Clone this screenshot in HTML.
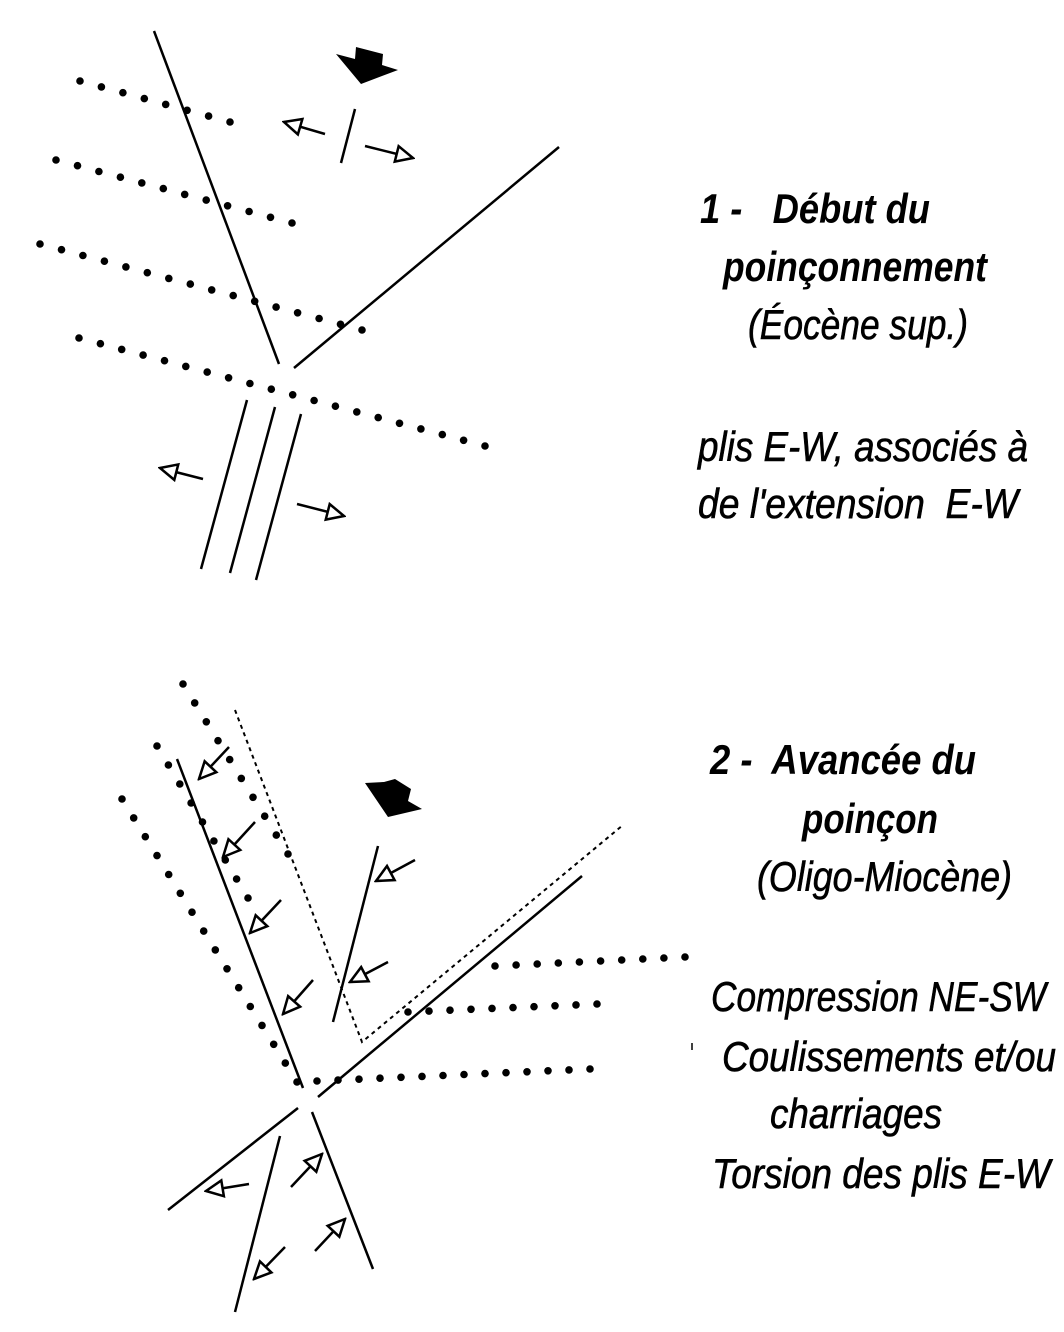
<!DOCTYPE html>
<html><head><meta charset="utf-8"><style>html,body{margin:0;padding:0;background:#fff}svg{display:block}</style></head><body>
<svg width="1064" height="1332" viewBox="0 0 1064 1332" xmlns="http://www.w3.org/2000/svg">
<defs>
<marker id="oa" viewBox="0 0 10 10" refX="9" refY="5" markerWidth="21" markerHeight="21" markerUnits="userSpaceOnUse" orient="auto">
<path d="M1,1.2 L9,5 L1,8.8 Z" fill="#fff" stroke="#000" stroke-width="1.2"/>
</marker>
</defs>
<g stroke="#000" stroke-width="2.5" fill="none" stroke-linecap="butt">
<line x1="154" y1="31" x2="279" y2="364"/>
<line x1="294" y1="368" x2="559" y2="147"/>
<line x1="355" y1="109" x2="341" y2="163"/>
<line x1="247" y1="400" x2="201" y2="569"/>
<line x1="275" y1="407" x2="230" y2="573"/>
<line x1="301" y1="414" x2="256" y2="580"/>
<g marker-end="url(#oa)">
<line x1="325" y1="134" x2="284" y2="122"/>
<line x1="365" y1="146" x2="413" y2="158"/>
<line x1="203" y1="479" x2="160" y2="468"/>
<line x1="297" y1="504" x2="344" y2="516"/>
</g>
<line x1="177" y1="759" x2="303" y2="1088"/>
<line x1="318" y1="1097" x2="582" y2="876"/>
<line x1="298" y1="1108" x2="168" y2="1210"/>
<line x1="280" y1="1136" x2="235" y2="1312"/>
<line x1="312" y1="1112" x2="373" y2="1269"/>
<line x1="378" y1="846" x2="333" y2="1022"/>
<polyline points="235,710 362,1042 623,825" stroke-width="2" stroke-dasharray="4,4"/>
<g marker-end="url(#oa)">
<line x1="229" y1="747" x2="199" y2="779"/>
<line x1="255" y1="822" x2="223" y2="857"/>
<line x1="281" y1="900" x2="250" y2="933"/>
<line x1="313" y1="980" x2="283" y2="1014"/>
<line x1="415" y1="860" x2="376" y2="881"/>
<line x1="388" y1="962" x2="350" y2="982"/>
<line x1="249" y1="1184" x2="206" y2="1191"/>
<line x1="291" y1="1187" x2="322" y2="1154"/>
<line x1="315" y1="1251" x2="345" y2="1219"/>
<line x1="285" y1="1247" x2="254" y2="1279"/>
</g>
<line x1="692" y1="1043" x2="692" y2="1050" stroke-width="1.5"/>
</g>
<polygon points="336,54 355,59 356,47 383,54 382,65 398,70 361,84" fill="#000"/>
<polygon points="365,783 384,782 395,779 411,789 408,801 422,809 388,817" fill="#000"/>
<g font-family="'Liberation Sans', Arial, sans-serif" font-style="italic" font-size="42" fill="#000">
<text x="700" y="223" font-weight="bold" textLength="230" lengthAdjust="spacingAndGlyphs" xml:space="preserve">1 -   Début du</text>
<text x="723" y="281" font-weight="bold" textLength="264" lengthAdjust="spacingAndGlyphs">poinçonnement</text>
<text x="748" y="339" textLength="220" lengthAdjust="spacingAndGlyphs" stroke="#000" stroke-width="0.6">(Éocène sup.)</text>
<text x="698" y="461" textLength="330" lengthAdjust="spacingAndGlyphs" stroke="#000" stroke-width="0.6">plis E-W, associés à</text>
<text x="698" y="518" textLength="320" lengthAdjust="spacingAndGlyphs" xml:space="preserve" stroke="#000" stroke-width="0.6">de l'extension  E-W</text>
<text x="710" y="774" font-weight="bold" textLength="266" lengthAdjust="spacingAndGlyphs" xml:space="preserve">2 -  Avancée du</text>
<text x="802" y="833" font-weight="bold" textLength="136" lengthAdjust="spacingAndGlyphs">poinçon</text>
<text x="757" y="891" textLength="255" lengthAdjust="spacingAndGlyphs" stroke="#000" stroke-width="0.6">(Oligo-Miocène)</text>
<text x="711" y="1011" textLength="335" lengthAdjust="spacingAndGlyphs" stroke="#000" stroke-width="0.6">Compression NE-SW</text>
<text x="722" y="1071" textLength="334" lengthAdjust="spacingAndGlyphs" stroke="#000" stroke-width="0.6">Coulissements et/ou</text>
<text x="770" y="1128" textLength="172" lengthAdjust="spacingAndGlyphs" stroke="#000" stroke-width="0.6">charriages</text>
<text x="712" y="1188" textLength="338" lengthAdjust="spacingAndGlyphs" stroke="#000" stroke-width="0.6">Torsion des plis E-W</text>
</g>
<g fill="#000">
<circle cx="80" cy="81" r="3.8"/><circle cx="101.4" cy="86.9" r="3.8"/><circle cx="122.9" cy="92.7" r="3.8"/><circle cx="144.3" cy="98.6" r="3.8"/><circle cx="165.7" cy="104.4" r="3.8"/><circle cx="187.1" cy="110.3" r="3.8"/><circle cx="208.6" cy="116.1" r="3.8"/><circle cx="230" cy="122" r="3.8"/>
<circle cx="56" cy="160" r="3.8"/><circle cx="77.5" cy="165.7" r="3.8"/><circle cx="98.9" cy="171.5" r="3.8"/><circle cx="120.4" cy="177.2" r="3.8"/><circle cx="141.8" cy="182.9" r="3.8"/><circle cx="163.3" cy="188.6" r="3.8"/><circle cx="184.7" cy="194.4" r="3.8"/><circle cx="206.2" cy="200.1" r="3.8"/><circle cx="227.6" cy="205.8" r="3.8"/><circle cx="249.1" cy="211.5" r="3.8"/><circle cx="270.5" cy="217.3" r="3.8"/><circle cx="292" cy="223" r="3.8"/>
<circle cx="40" cy="244" r="3.8"/><circle cx="61.5" cy="249.7" r="3.8"/><circle cx="82.9" cy="255.5" r="3.8"/><circle cx="104.4" cy="261.2" r="3.8"/><circle cx="125.9" cy="266.9" r="3.8"/><circle cx="147.3" cy="272.7" r="3.8"/><circle cx="168.8" cy="278.4" r="3.8"/><circle cx="190.3" cy="284.1" r="3.8"/><circle cx="211.7" cy="289.9" r="3.8"/><circle cx="233.2" cy="295.6" r="3.8"/><circle cx="254.7" cy="301.3" r="3.8"/><circle cx="276.1" cy="307.1" r="3.8"/><circle cx="297.6" cy="312.8" r="3.8"/><circle cx="319.1" cy="318.5" r="3.8"/><circle cx="340.5" cy="324.3" r="3.8"/><circle cx="362" cy="330" r="3.8"/>
<circle cx="79" cy="338" r="3.8"/><circle cx="100.4" cy="343.7" r="3.8"/><circle cx="121.7" cy="349.4" r="3.8"/><circle cx="143.1" cy="355.1" r="3.8"/><circle cx="164.5" cy="360.7" r="3.8"/><circle cx="185.8" cy="366.4" r="3.8"/><circle cx="207.2" cy="372.1" r="3.8"/><circle cx="228.6" cy="377.8" r="3.8"/><circle cx="249.9" cy="383.5" r="3.8"/><circle cx="271.3" cy="389.2" r="3.8"/><circle cx="292.7" cy="394.8" r="3.8"/><circle cx="314.1" cy="400.5" r="3.8"/><circle cx="335.4" cy="406.2" r="3.8"/><circle cx="356.8" cy="411.9" r="3.8"/><circle cx="378.2" cy="417.6" r="3.8"/><circle cx="399.5" cy="423.3" r="3.8"/><circle cx="420.9" cy="428.9" r="3.8"/><circle cx="442.3" cy="434.6" r="3.8"/><circle cx="463.6" cy="440.3" r="3.8"/><circle cx="485" cy="446" r="3.8"/>
<circle cx="183" cy="684" r="3.8"/><circle cx="194.7" cy="702.9" r="3.8"/><circle cx="206.3" cy="721.8" r="3.8"/><circle cx="218" cy="740.7" r="3.8"/><circle cx="229.7" cy="759.6" r="3.8"/><circle cx="241.3" cy="778.4" r="3.8"/><circle cx="253" cy="797.3" r="3.8"/><circle cx="264.7" cy="816.2" r="3.8"/><circle cx="276.3" cy="835.1" r="3.8"/><circle cx="288" cy="854" r="3.8"/>
<circle cx="157" cy="746" r="3.8"/><circle cx="168.4" cy="765" r="3.8"/><circle cx="179.8" cy="784" r="3.8"/><circle cx="191.1" cy="803" r="3.8"/><circle cx="202.5" cy="822" r="3.8"/><circle cx="213.9" cy="841" r="3.8"/><circle cx="225.3" cy="860" r="3.8"/><circle cx="236.6" cy="879" r="3.8"/><circle cx="248" cy="898" r="3.8"/>
<circle cx="122" cy="799" r="3.8"/><circle cx="133.7" cy="817.9" r="3.8"/><circle cx="145.3" cy="836.7" r="3.8"/><circle cx="157" cy="855.6" r="3.8"/><circle cx="168.7" cy="874.5" r="3.8"/><circle cx="180.3" cy="893.3" r="3.8"/><circle cx="192" cy="912.2" r="3.8"/><circle cx="203.7" cy="931.1" r="3.8"/><circle cx="215.3" cy="949.9" r="3.8"/><circle cx="227" cy="968.8" r="3.8"/><circle cx="238.7" cy="987.7" r="3.8"/><circle cx="250.3" cy="1006.5" r="3.8"/><circle cx="262" cy="1025.4" r="3.8"/><circle cx="273.7" cy="1044.3" r="3.8"/><circle cx="285.3" cy="1063.1" r="3.8"/><circle cx="297" cy="1082" r="3.8"/>
<circle cx="317" cy="1081" r="3.8"/><circle cx="338" cy="1080.1" r="3.8"/><circle cx="359" cy="1079.2" r="3.8"/><circle cx="380" cy="1078.2" r="3.8"/><circle cx="401" cy="1077.3" r="3.8"/><circle cx="422" cy="1076.4" r="3.8"/><circle cx="443" cy="1075.5" r="3.8"/><circle cx="464" cy="1074.5" r="3.8"/><circle cx="485" cy="1073.6" r="3.8"/><circle cx="506" cy="1072.7" r="3.8"/><circle cx="527" cy="1071.8" r="3.8"/><circle cx="548" cy="1070.8" r="3.8"/><circle cx="569" cy="1069.9" r="3.8"/><circle cx="590" cy="1069" r="3.8"/>
<circle cx="495" cy="966" r="3.8"/><circle cx="516.1" cy="965" r="3.8"/><circle cx="537.2" cy="964" r="3.8"/><circle cx="558.3" cy="963" r="3.8"/><circle cx="579.4" cy="962" r="3.8"/><circle cx="600.6" cy="961" r="3.8"/><circle cx="621.7" cy="960" r="3.8"/><circle cx="642.8" cy="959" r="3.8"/><circle cx="663.9" cy="958" r="3.8"/><circle cx="685" cy="957" r="3.8"/>
<circle cx="408" cy="1012" r="3.8"/><circle cx="429" cy="1011.1" r="3.8"/><circle cx="450" cy="1010.2" r="3.8"/><circle cx="471" cy="1009.3" r="3.8"/><circle cx="492" cy="1008.4" r="3.8"/><circle cx="513" cy="1007.6" r="3.8"/><circle cx="534" cy="1006.7" r="3.8"/><circle cx="555" cy="1005.8" r="3.8"/><circle cx="576" cy="1004.9" r="3.8"/><circle cx="597" cy="1004" r="3.8"/>
</g>
</svg>
</body></html>
